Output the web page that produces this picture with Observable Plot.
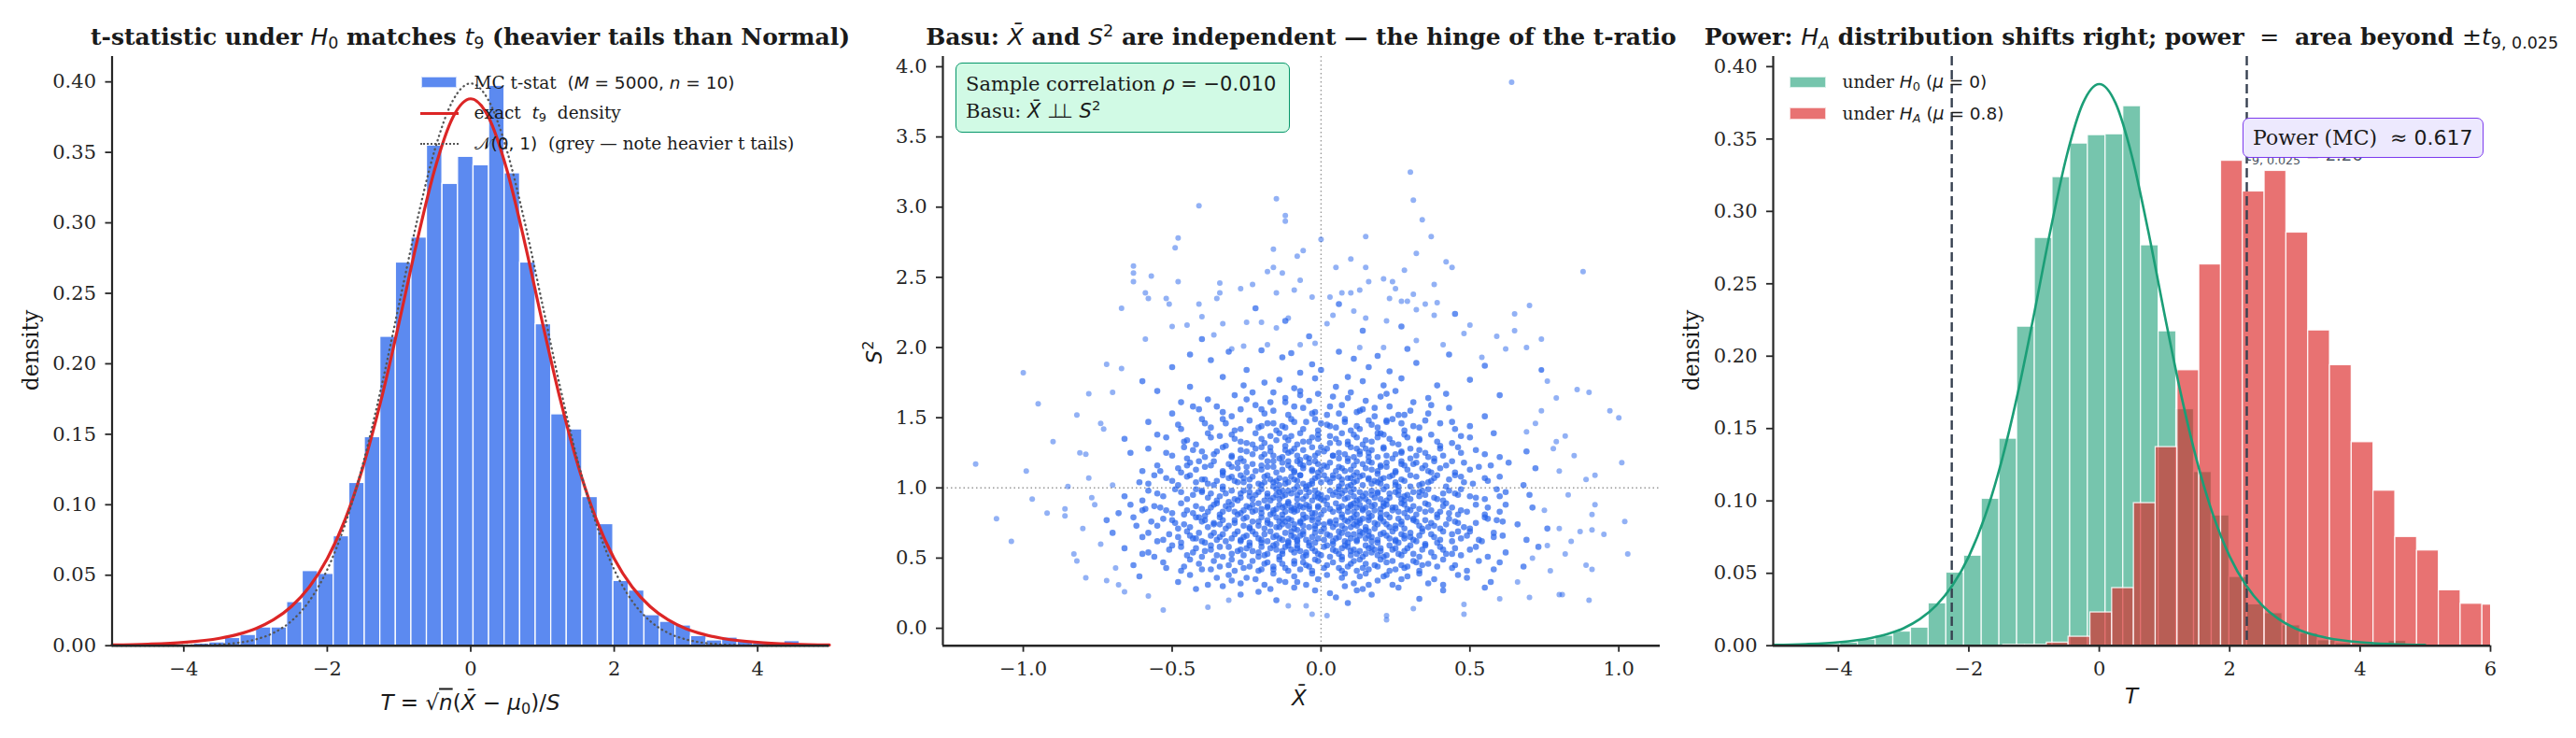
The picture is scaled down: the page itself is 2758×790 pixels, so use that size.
<!DOCTYPE html>
<html><head><meta charset="utf-8">
<script src="https://cdn.jsdelivr.net/npm/d3@7"></script>
<script src="https://cdn.jsdelivr.net/npm/@observablehq/plot@0.6"></script>
<style>
body{margin:0;background:#fff;}
#root{position:relative;width:2758px;height:790px;overflow:hidden;font-family:"DejaVu Serif";color:#1a1a1a;background:#fff}
#root svg text{font-family:"DejaVu Serif" !important;}
.abs{position:absolute;white-space:nowrap;line-height:1}
.m{font-family:"DejaVu Sans";font-style:italic;font-weight:normal}
.r{font-family:"DejaVu Sans";font-style:normal;font-weight:normal}
sub,sup{font-family:"DejaVu Sans";font-style:normal;font-weight:normal;font-size:70%;line-height:0}
sub{vertical-align:-0.28em}
sup{vertical-align:0.5em}
sub.i{font-style:italic}
</style></head><body><div id="root"></div><script>
// ---------- Panel 1: MC t-statistic histogram ----------
const tBinStart = -4.077, tBinWidth = 0.2166;
const tHist = [0.0009,0.0015,0.0024,0.0055,0.0077,0.013,0.013,0.031,0.053,0.051,0.0777,0.1155,0.148,0.2192,0.2719,0.2896,0.3549,0.3277,0.3469,0.3409,0.3973,0.3352,0.2719,0.2281,0.1642,0.1535,0.1055,0.0863,0.046,0.0392,0.0217,0.017,0.0144,0.0069,0.0038,0.0058,0.0029,0.0015,0.0013,0.0033,0.0009];
const curveX = [-5,-4.5,-4,-3.5,-3.25,-3,-2.75,-2.5,-2.25,-2,-1.75,-1.5,-1.25,-1,-0.75,-0.5,-0.25,0,0.25,0.5,0.75,1,1.25,1.5,1.75,2,2.25,2.5,2.75,3,3.25,3.5,4,4.5,5];
const t9Density = [0.0005,0.00107,0.00235,0.0053,0.008,0.0121,0.0184,0.0278,0.0417,0.0617,0.0897,0.1272,0.1743,0.2291,0.2866,0.3383,0.3748,0.388,0.3748,0.3383,0.2866,0.2291,0.1743,0.1272,0.0897,0.0617,0.0417,0.0278,0.0184,0.0121,0.008,0.0053,0.00235,0.00107,0.0005];
const normalDensity = [0,0.00002,0.00013,0.00087,0.00203,0.00443,0.0091,0.0175,0.0317,0.054,0.0863,0.1295,0.1826,0.242,0.3011,0.3521,0.3867,0.3989,0.3867,0.3521,0.3011,0.242,0.1826,0.1295,0.0863,0.054,0.0317,0.0175,0.0091,0.00443,0.00203,0.00087,0.00013,0.00002,0];
const p1XTicks = [-4,-2,0,2,4];
const p1YTicks = [0,0.05,0.1,0.15,0.2,0.25,0.3,0.35,0.4];

// ---------- Panel 2: (Xbar, S^2) scatter ----------
const basuOuter = [[.64,3.89],[.30,3.25],[.31,3.05],[-.15,3.06],[-.41,3.01],[.34,2.91],[-.12,2.94],[-.12,2.90],[.0,2.77],[.15,2.79],[.37,2.79],[-.48,2.78],[-.49,2.71],[-.16,2.70],[-.06,2.69],[.32,2.67],[-.08,2.65],[.10,2.63],[.42,2.61],[.44,2.57],[-.63,2.58],[-.63,2.53],[-.57,2.51],[-.63,2.47],[-.48,2.47],[-.16,2.57],[-.18,2.54],[-.13,2.53],[.05,2.57],[.15,2.57],[.28,2.55],[.88,2.54],[-.07,2.48],[.21,2.49],[.24,2.47],[.16,2.47],[.38,2.45],[-.34,2.46],[-.23,2.45],[-.27,2.42],[.25,2.42],[-.59,2.39],[-.58,2.35],[-.52,2.35],[-.51,2.31],[-.67,2.28],[-.41,2.31],[-.35,2.35],[-.34,2.39],[-.15,2.39],[-.09,2.41],[-.03,2.36],[.03,2.36],[.07,2.39],[.10,2.39],[.13,2.41],[.23,2.35],[.27,2.33],[.29,2.33],[.31,2.38],[.35,2.31],[.39,2.32],[.70,2.30],[.65,2.24],[.65,2.12],[.74,2.06],[.59,2.08],[.69,2.0],[.62,1.99],[.50,2.16],[.48,2.10],[.41,2.02],[.32,2.05],[.38,2.23],[.32,2.27],[.22,2.19],[.15,2.21],[.11,2.26],[.04,2.23],[.02,2.17],[-.02,2.03],[-.11,2.21],[-.15,2.14],[-.2,2.18],[-.25,2.18],[-.33,2.17],[-.4,2.22],[-.45,2.16],[-.5,2.15],[-.59,2.06],[-.36,2.09],[-.3,1.99],[-.26,2.01],[-.18,2.02],[-.07,2.02],[.13,2.0],[.21,2.0],[.54,1.93],[.74,1.84],[-.72,1.88],[-.67,1.85],[-1.0,1.82],[-.95,1.6],[-.9,1.33],[-1.16,1.17],[-.99,1.12],[-.97,.92],[-1.09,.78],[-.92,.82],[-.86,.85],[-.86,.8],[-1.04,.62],[-.83,.53],[-.82,.48],[-.79,.36],[-.72,.34],[-.68,.31],[-.58,.23],[-.53,.13],[-.38,.15],[-.31,.2],[-.11,.16],[-.05,.16],[-.03,.1],[.02,.09],[.22,.09],[.22,.06],[.31,.14],[.48,.17],[.48,.1],[.6,.21],[.7,.22],[.81,.24],[.9,.2],[.89,.45],[.91,.42],[.95,.67],[.87,.69],[.91,.7],[1.02,.76],[1.03,.53],[.91,.81],[.92,.88],[.89,1.06],[.92,1.09],[1.01,1.18],[1.0,1.5],[.97,1.55],[.9,1.68],[.86,1.7],[.85,1.23],[.82,1.37],[.79,1.33],[.8,.71],[.82,.53],[.8,.24],[.76,.59],[.74,1.55],[.76,1.76],[.72,1.46],[.74,1.84],[.78,1.28],[.83,.95],[.77,.41],[.66,.33],[.8,1.12],[.75,.84],[.69,1.4],[.84,.62],[.71,.5],[.79,1.64],[-.78,1.07],[-.74,.6],[-.81,1.25],[-.69,.43],[-.77,.93],[-.73,1.42],[-.8,.71],[-.7,1.68],[-.85,1.01],[-.66,.26],[-.82,1.52],[-.78,1.67],[-.74,1.46],[-.79,1.24],[-.7,1.02],[-.76,.88]];
const basuCore = [[-.21,.26],[.05,.22],[.14,.28],[-.09,.29],[.33,.21],[-.27,.24],[.41,.27],[.09,.18],[-.15,.2],[.26,.29],[-.42,.28],[.17,.24],[-.02,.27],[.55,.29],[-.33,.3],
[-.12,.33],[.07,.36],[.24,.31],[-.31,.38],[.15,.39],[-.05,.31],[.38,.35],[-.22,.35],[.02,.38],[-.48,.33],[.29,.37],[-.16,.39],[.11,.32],[-.38,.31],[.46,.38],[.19,.34],[-.27,.32],[-.01,.35],[.33,.39],[-.09,.37],[.57,.33],[-.61,.37],[.08,.3],[-.19,.31],[.22,.38],[-.35,.36],[.41,.31],[.13,.37],
[-.07,.42],[.18,.45],[-.29,.41],[.31,.48],[.04,.47],[-.16,.44],[.44,.43],[-.41,.46],[.12,.41],[-.02,.49],[.25,.42],[-.23,.48],[.09,.44],[-.52,.43],[.36,.46],[-.11,.41],[.6,.47],[-.34,.44],[.2,.49],[-.05,.45],[.14,.43],[-.18,.47],[.49,.41],[-.44,.49],[.27,.45],[.01,.43],[-.26,.43],[.07,.49],[-.13,.46],[.39,.44],[-.37,.42],[.22,.47],[-.09,.48],[.16,.42],[-.63,.45],[.33,.41],[-.2,.42],[.68,.44],[-.03,.41],[.1,.46],[-.3,.49],[.53,.48],[-.47,.41],[.29,.44],[-.14,.49],
[.03,.51],[-.21,.54],[.17,.58],[-.35,.52],[.28,.55],[-.08,.57],[.42,.53],[-.14,.51],[.11,.56],[-.47,.58],[.06,.53],[-.27,.56],[.35,.59],[-.02,.55],[.21,.51],[-.39,.55],[.15,.53],[-.11,.59],[.5,.56],[-.56,.51],[.25,.57],[-.18,.53],[.08,.59],[-.31,.58],[.38,.51],[-.05,.52],[.13,.55],[-.24,.59],[.31,.53],[-.43,.54],[.01,.58],[.19,.52],[-.15,.56],[.62,.54],[-.66,.57],[.45,.57],[-.09,.54],[.23,.59],[-.33,.51],[.1,.52],[-.2,.58],[.04,.56],[-.5,.59],[.34,.56],[-.13,.53],[.27,.52],[-.04,.59],[.56,.51],[-.37,.59],[.16,.57],[-.26,.52],[.07,.51],[-.07,.55],[.4,.58],[-.6,.53],[.2,.55],[-.17,.57],[.73,.58],
[-.04,.61],[.19,.63],[-.25,.66],[.32,.62],[-.12,.68],[.06,.65],[-.39,.61],[.44,.67],[-.08,.63],[.13,.69],[-.3,.64],[.26,.61],[-.51,.67],[.02,.67],[.38,.65],[-.18,.62],[.09,.61],[-.45,.69],[.22,.66],[-.01,.64],[.54,.62],[-.22,.67],[.15,.64],[-.35,.63],[.3,.68],[-.1,.66],[.47,.64],[-.6,.65],[.11,.67],[-.15,.6],[.35,.6],[-.28,.69],[.04,.62],[-.43,.64],[.24,.69],[-.06,.69],[.17,.62],[-.2,.63],[.61,.66],[-.33,.67],[.07,.68],[-.14,.64],[.41,.69],[-.55,.62],[.28,.64],[-.02,.61],[.2,.67],[-.37,.66],[.12,.63],[-.24,.61],[.5,.69],[-.09,.65],[.33,.66],[-.48,.65],[.0,.69],[.16,.66],[-.27,.62],[.69,.63],[-.7,.68],[.25,.63],[-.17,.69],[.05,.64],[-.41,.68],[.39,.61],[-.11,.62],[.58,.68],
[.01,.71],[-.17,.74],[.23,.72],[-.33,.77],[.14,.78],[-.06,.73],[.37,.75],[-.24,.71],[.09,.76],[-.46,.74],[.29,.79],[-.11,.78],[.18,.71],[-.38,.72],[.05,.74],[.48,.72],[-.2,.79],[.12,.73],[-.03,.77],[.34,.71],[-.53,.78],[.21,.76],[-.14,.72],[.59,.77],[-.29,.75],[.07,.79],[-.08,.7],[.27,.74],[-.42,.79],[.16,.77],[-.23,.76],[.43,.78],[-.01,.75],[.1,.72],[-.36,.74],[.31,.77],[-.12,.76],[.2,.79],[-.62,.73],[.04,.72],[-.26,.78],[.52,.75],[-.09,.71],[.25,.71],[-.18,.77],[.38,.73],[-.48,.71],[.13,.75],[-.05,.79],[.66,.74],[-.31,.73],[.08,.77],[-.15,.79],[.32,.76],[-.4,.76],[.19,.74],[-.02,.73],[.45,.76],[-.21,.73],[.11,.79],[-.57,.76],[.26,.78],[-.07,.75],[.15,.7],[-.34,.79],[.55,.79],[-.13,.74],[.03,.76],[-.72,.77],[.76,.71],
[-.02,.82],[.2,.85],[-.28,.81],[.13,.88],[-.1,.86],[.35,.83],[-.42,.87],[.07,.81],[-.16,.84],[.27,.89],[-.05,.88],[.44,.86],[-.33,.83],[.16,.82],[-.21,.89],[.03,.85],[-.5,.82],[.31,.87],[-.08,.84],[.22,.81],[-.37,.86],[.1,.87],[-.13,.81],[.52,.88],[-.24,.86],[.39,.81],[-.59,.85],[.05,.89],[-.18,.87],[.24,.84],[-.01,.87],[.14,.85],[-.3,.88],[.6,.83],[-.11,.89],[.33,.85],[-.45,.84],[.09,.83],[-.26,.84],[.18,.88],[-.06,.81],[.42,.89],[-.35,.89],[.28,.82],[-.15,.85],[.01,.84],[-.64,.88],[.47,.84],[-.2,.82],[.12,.86],[-.04,.85],[.36,.88],[-.39,.8],[.21,.87],[-.09,.83],[.55,.81],[-.23,.83],[.06,.86],[-.47,.89],[.3,.84],[-.12,.87],[.17,.8],[-.31,.85],[.71,.86],[-.68,.82],[.25,.86],[-.17,.81],[.11,.89],[-.54,.86],[.4,.83],
[.02,.93],[-.19,.91],[.26,.95],[-.07,.97],[.15,.92],[-.34,.94],[.41,.91],[-.12,.95],[.08,.98],[-.45,.92],[.31,.97],[-.03,.91],[.19,.96],[-.26,.98],[.5,.94],[-.16,.93],[.12,.91],[-.55,.96],[.23,.93],[-.09,.99],[.36,.99],[-.31,.9],[.04,.95],[-.21,.97],[.62,.97],[-.4,.98],[.17,.98],[-.01,.96],[.28,.91],[-.14,.92],[.45,.96],[-.6,.91],[.09,.93],[-.24,.94],[.33,.94],[-.05,.94],[.21,.99],[-.37,.96],[.13,.97],[-.11,.9],[.55,.92],[-.29,.92],[.06,.99],[-.18,.96],[.38,.93],[-.49,.99],[.25,.97],[-.02,.98],[.11,.94],[-.33,.99],[.7,.95],[-.08,.92],[.29,.95],[-.22,.95],[.16,.9],[-.43,.95],[.47,.99],[-.13,.98],[.0,.92],[.2,.92],[-.66,.94],[.34,.98],[-.27,.96],[.07,.96],[-.15,.99],[.59,.99],
[-.04,1.02],[.18,1.05],[-.23,1.08],[.3,1.01],[-.11,1.04],[.09,1.07],[-.38,1.03],[.43,1.06],[-.07,1.09],[.14,1.02],[-.29,1.05],[.24,1.09],[-.52,1.07],[.03,1.04],[-.16,1.01],[.36,1.04],[-.01,1.08],[.2,1.03],[-.44,1.09],[.11,1.09],[-.2,1.02],[.51,1.03],[-.09,1.06],[.27,1.06],[-.33,1.01],[.06,1.01],[-.14,1.07],[.6,1.08],[-.61,1.04],[.16,1.07],[-.26,1.04],[.39,1.09],[-.03,1.05],[.22,1.01],[-.4,1.06],[.12,1.05],[-.18,1.09],[.33,1.02],[-.06,1.03],[.47,1.08],[-.3,1.08],[.07,1.06],[-.12,1.03],[.25,1.04],[-.48,1.02],[.01,1.09],[.17,1.03],[-.24,1.06],[.56,1.05],[-.35,1.05],[.1,1.02],[-.08,1.01],[.32,1.08],[-.19,1.04],[.68,1.02],[-.56,1.09],[.04,1.07],[-.15,1.05],[.21,1.07],[-.27,1.09],
[.05,1.12],[-.18,1.15],[.22,1.18],[-.09,1.11],[.34,1.14],[-.31,1.17],[.11,1.16],[-.02,1.19],[.45,1.11],[-.42,1.13],[.17,1.13],[-.13,1.18],[.28,1.16],[-.25,1.11],[.02,1.15],[-.55,1.16],[.38,1.19],[-.06,1.14],[.19,1.1],[-.36,1.19],[.09,1.19],[-.2,1.13],[.53,1.15],[-.11,1.16],[.25,1.12],[-.47,1.11],[.14,1.17],[-.03,1.12],[.31,1.17],[-.28,1.14],[.63,1.18],[-.15,1.11],[.07,1.14],[-.39,1.15],[.42,1.16],[-.07,1.17],[.2,1.15],[-.23,1.17],[.12,1.11],[-.6,1.12],[.36,1.12],[-.01,1.17],[-.16,1.19],[.27,1.19],[-.33,1.12],[.48,1.18],[.0,1.13],[-.1,1.14],[.16,1.19],[-.44,1.18],[.72,1.14],[-.26,1.19],
[-.05,1.22],[.16,1.25],[-.27,1.21],[.3,1.28],[-.12,1.27],[.06,1.21],[-.4,1.26],[.41,1.23],[-.19,1.24],[.1,1.29],[-.01,1.25],[.24,1.21],[-.33,1.29],[.52,1.27],[-.08,1.23],[.19,1.22],[-.5,1.23],[.02,1.28],[-.22,1.28],[.35,1.25],[-.14,1.21],[.13,1.26],[-.36,1.24],[.27,1.26],[-.03,1.29],[.6,1.22],[-.25,1.26],[.08,1.24],[-.45,1.21],[.21,1.29],[-.1,1.26],[.38,1.21],[-.17,1.29],[.04,1.23],[-.58,1.28],[.32,1.23],[-.07,1.2],[.15,1.28],[-.3,1.23],[.46,1.29],[-.2,1.22],[.11,1.22],[-.64,1.25],[.25,1.24],[.69,1.26],
[.03,1.32],[-.2,1.35],[.21,1.38],[-.08,1.31],[.33,1.34],[-.34,1.37],[.12,1.36],[-.14,1.39],[.44,1.32],[-.03,1.36],[-.46,1.33],[.26,1.31],[-.25,1.32],[.07,1.39],[.17,1.33],[-.11,1.34],[.37,1.38],[-.38,1.39],[-.01,1.38],[.5,1.36],[-.17,1.37],[.09,1.33],[-.29,1.35],[.29,1.36],[-.55,1.38],[.14,1.31],[-.06,1.33],[.23,1.35],[-.42,1.31],[.58,1.39],[-.22,1.39],[.05,1.35],[-.12,1.3],[.4,1.3],[-.32,1.3],[.19,1.39],[-.66,1.35],
[-.06,1.42],[.17,1.45],[-.24,1.48],[.28,1.41],[-.13,1.44],[.08,1.47],[-.37,1.43],[.4,1.46],[-.02,1.49],[.13,1.42],[-.18,1.46],[.24,1.49],[-.48,1.45],[.03,1.44],[-.29,1.41],[.35,1.48],[-.09,1.47],[.19,1.43],[-.4,1.49],[.5,1.44],[-.15,1.41],[.1,1.41],[-.21,1.43],[.31,1.44],[-.58,1.47],[.0,1.46],[.22,1.47],[-.32,1.46],[.45,1.42],[-.1,1.49],
[.02,1.52],[-.16,1.55],[.23,1.58],[-.3,1.51],[.12,1.54],[-.06,1.57],[.36,1.53],[-.41,1.56],[.07,1.59],[-.22,1.59],[.3,1.55],[-.11,1.52],[.18,1.51],[-.5,1.53],[.43,1.57],[-.02,1.54],[-.27,1.56],[.14,1.56],[-.35,1.58],[.55,1.51],[-.09,1.58],[.26,1.52],[-.19,1.53],[.06,1.53],
[-.04,1.62],[.2,1.65],[-.23,1.68],[.31,1.61],[-.12,1.64],[.1,1.68],[-.38,1.63],[.42,1.67],[-.07,1.69],[.15,1.62],[-.29,1.66],[.25,1.69],[-.47,1.61],[.04,1.65],[-.17,1.61],[.36,1.64],[-.01,1.67],[.6,1.66],[-.55,1.69],
[.05,1.72],[-.19,1.75],[.27,1.78],[-.09,1.71],[.14,1.76],[-.33,1.79],[.39,1.73],[-.02,1.78],[-.44,1.72],[.21,1.73],[-.14,1.77],[.5,1.77],[-.26,1.73],[.09,1.79],[-.6,1.76],
[-.07,1.82],[.16,1.86],[-.25,1.84],[.32,1.89],[-.13,1.93],[.06,1.97],[-.37,1.91],[.23,1.83],[-.03,1.88],[.43,1.95],[-.2,1.98],[.11,1.92],[-.5,1.86],[.29,1.99],[-.1,1.96],[.0,1.84],[-.31,1.97],[.19,1.94],[.55,1.87],[-.44,1.95],
[-.04,2.08],[.14,2.12],[-.22,2.28],[.27,2.15],[-.12,2.19],[.06,2.31],[.45,2.24],[-.4,2.06]];
const basuDense = [[-.14,.34],[.21,.37],[-.03,.39],[.12,.27],[-.25,.36],[.36,.32],[-.08,.33],[.03,.25],[-.44,.38],[.27,.35],[-.17,.28],[.08,.39],[.49,.36],[-.3,.34],[.16,.31],
[.06,.43],[-.19,.46],[.23,.41],[-.31,.45],[.11,.48],[-.06,.47],[.34,.45],[-.4,.42],[.15,.46],[-.12,.43],[.41,.49],[-.24,.44],[.02,.45],[-.53,.47],[.28,.43],[-.09,.46],[.19,.44],[-.36,.48],[.07,.41],[-.16,.42],[.45,.45],[-.01,.48],[.24,.48],[-.27,.47],[.13,.49],[-.46,.44],[.32,.47],[-.04,.44],[-.21,.41],[.58,.42],
[-.01,.53],[.24,.56],[-.28,.55],[.14,.51],[-.12,.58],[.37,.54],[-.42,.57],[.05,.55],[-.19,.52],[.3,.59],[-.06,.51],[.17,.54],[-.34,.58],[.47,.52],[-.1,.56],[.09,.58],[-.23,.55],[.26,.53],[-.51,.56],[.02,.59],[.2,.57],[-.16,.59],[.41,.56],[-.3,.53],[.12,.53],[-.03,.57],[.33,.51],[-.45,.52],[.07,.57],[-.21,.51],[.52,.58],[-.08,.59],[.22,.52],[-.37,.56],[.15,.59],[-.13,.55],[.29,.57],[-.58,.54],[.0,.52],[.18,.56],[-.25,.57],[.44,.53],[-.05,.54],[.1,.55],[-.4,.51],
[.08,.62],[-.16,.65],[.27,.67],[-.32,.62],[.14,.68],[-.05,.63],[.4,.63],[-.44,.66],[.03,.66],[-.21,.64],[.34,.69],[-.11,.61],[.19,.61],[-.36,.68],[.49,.66],[-.02,.68],[.23,.64],[-.26,.65],[.1,.64],[-.53,.63],[.31,.63],[-.08,.62],[.16,.69],[-.19,.67],[.44,.62],[-.4,.62],[.06,.69],[-.13,.63],[.28,.66],[-.29,.67],[.01,.63],[.58,.65],[-.47,.61],[.21,.68],[-.07,.66],[.12,.62],[-.23,.69],[.37,.67],[-.15,.66],[.04,.6],[-.34,.65],[.25,.62],[-.1,.69],[.17,.65],[-.58,.68],[.46,.69],[-.03,.65],[.3,.65],[-.2,.61],[.09,.67],[-.42,.64],[.53,.63],[-.27,.63],[.13,.66],[-.06,.67],
[-.04,.72],[.18,.75],[-.26,.73],[.31,.78],[-.1,.77],[.08,.71],[-.39,.77],[.42,.74],[-.15,.72],[.13,.77],[-.01,.78],[.25,.73],[-.32,.71],[.5,.71],[-.07,.76],[.2,.78],[-.49,.75],[.03,.75],[-.21,.76],[.36,.72],[-.13,.78],[.11,.74],[-.36,.75],[.27,.76],[-.02,.71],[.61,.76],[-.25,.79],[.07,.73],[-.44,.72],[.23,.79],[-.11,.73],[.39,.79],[-.18,.75],[.05,.77],[-.55,.73],[.33,.73],[-.06,.78],[.15,.72],[-.29,.77],[.46,.75],[-.19,.71],[.1,.78],[-.63,.79],[.28,.71],[-.09,.74],[.16,.79],[-.34,.74],[.56,.78],[-.14,.76],[.01,.74],[-.41,.79],[.22,.74],[-.24,.72],[.35,.77],[-.03,.79],[.12,.76],[-.5,.77],[.4,.71],
[.04,.83],[-.18,.86],[.22,.88],[-.29,.83],[.12,.81],[-.07,.87],[.37,.84],[-.43,.82],[.09,.86],[-.14,.88],[.29,.85],[-.03,.82],[.17,.87],[-.36,.88],[.46,.81],[-.22,.84],[.02,.88],[-.52,.84],[.26,.83],[-.09,.85],[.14,.84],[-.25,.87],[.41,.87],[-.12,.83],[.06,.84],[-.4,.85],[.32,.81],[-.01,.86],[.2,.82],[-.32,.87],[.56,.86],[-.16,.82],[.1,.88],[-.46,.81],[.24,.86],[-.06,.86],[.35,.89],[-.2,.85],[.0,.81],[-.6,.84],[.18,.84],[-.27,.82],[.49,.83],[-.1,.84],[.15,.86],[-.38,.83],[.28,.88],[-.04,.87],[.07,.87],[-.23,.88],[.43,.82],[-.13,.86],[.21,.89],[-.34,.81],[.62,.88],[-.56,.87],[.11,.83],[-.08,.88],
[-.06,.92],[.17,.95],[-.24,.97],[.3,.92],[-.13,.94],[.05,.97],[-.38,.93],[.43,.98],[-.02,.94],[.22,.91],[-.3,.98],[.11,.99],[-.17,.91],[.35,.95],[-.47,.97],[.01,.91],[.26,.98],[-.1,.96],[.14,.94],[-.27,.93],[.52,.93],[-.05,.99],[.19,.97],[-.35,.91],[.08,.92],[-.2,.99],[.39,.92],[-.53,.94],[.03,.98],[-.14,.97],[.28,.94],[-.42,.99],[.15,.96],[-.08,.95],[.46,.95],[-.23,.92],[.1,.97],[-.32,.96],[.23,.96],[-.01,.93],[.6,.94],[-.18,.94],[.06,.94],[-.4,.97],[.33,.97],[-.11,.98],[.18,.93],[-.28,.91],[.41,.96],[-.04,.97],[.13,.92],[-.58,.98],[.27,.92],[-.15,.95],[.0,.95],
[.07,1.03],[-.17,1.06],[.25,1.02],[-.31,1.07],[.13,1.08],[-.05,1.01],[.38,1.07],[-.42,1.04],[.02,1.06],[-.21,1.03],[.3,1.09],[-.1,1.08],[.19,1.04],[-.36,1.02],[.48,1.04],[-.02,1.07],[.09,1.01],[-.26,1.07],[.34,1.03],[-.14,1.02],[.16,1.06],[-.5,1.05],[.04,1.09],[-.08,1.05],[.23,1.08],[-.33,1.09],[.42,1.01],[-.19,1.08],[.11,1.04],[-.45,1.08],[.28,1.05],[-.03,1.03],[.55,1.07],[-.24,1.01],[.14,1.09],[-.12,1.06],[.37,1.05],[-.58,1.03],[.0,1.04],[.2,1.06],[-.28,1.04],[.06,1.08],[-.39,1.06],[.45,1.09],[-.07,1.09],[.26,1.01],[-.16,1.04],[.1,1.07],
[-.03,1.13],[.2,1.16],[-.22,1.12],[.32,1.18],[-.11,1.19],[.08,1.12],[-.37,1.16],[.4,1.14],[-.06,1.16],[.15,1.14],[-.28,1.18],[.25,1.11],[-.48,1.14],[.03,1.18],[-.16,1.15],[.35,1.16],[-.01,1.11],[.12,1.19],[-.33,1.11],[.5,1.13],[-.09,1.12],[.22,1.15],[-.2,1.16],[.06,1.15],[-.41,1.19],[.29,1.13],[-.13,1.13],[.17,1.18],[-.25,1.15],[.44,1.19],[-.04,1.18],[.1,1.13],[-.54,1.12],[.37,1.11],[-.18,1.19],[.01,1.16],[-.3,1.15],[.57,1.16],[-.08,1.19],[.19,1.12],[-.45,1.16],[.27,1.17],
[.04,1.23],[-.17,1.26],[.21,1.28],[-.3,1.22],[.13,1.24],[-.06,1.27],[.36,1.22],[-.43,1.27],[.09,1.21],[-.13,1.22],[.27,1.25],[-.02,1.23],[.17,1.27],[-.35,1.26],[.47,1.25],[-.23,1.24],[.01,1.26],[-.52,1.25],[.3,1.21],[-.09,1.28],[.12,1.28],[-.27,1.27],[.4,1.28],[-.16,1.23],[.06,1.25],[-.39,1.22],[.22,1.23],[-.04,1.21],[.55,1.24],[-.2,1.29],[.16,1.22],[-.46,1.29],[.33,1.27],[-.11,1.25],[.0,1.29],
[-.04,1.33],[.19,1.36],[-.23,1.31],[.28,1.38],[-.1,1.37],[.06,1.32],[-.37,1.36],[.39,1.33],[-.15,1.34],[.11,1.38],[-.01,1.35],[.24,1.32],[-.3,1.38],[.47,1.37],[-.07,1.39],[.15,1.34],[-.45,1.34],[.03,1.37],[-.19,1.32],[.33,1.35],[-.12,1.36],[.09,1.31],[-.27,1.33],[.2,1.39],[-.52,1.36],
[.05,1.43],[-.16,1.46],[.22,1.48],[-.27,1.42],[.12,1.44],[-.05,1.47],[.33,1.43],[-.39,1.46],[.08,1.49],[-.12,1.43],[.27,1.46],[-.01,1.41],[.16,1.48],[-.33,1.49],[.44,1.47],[-.2,1.44],[.02,1.45],[-.47,1.42],
[-.03,1.53],[.18,1.57],[-.2,1.56],[.28,1.52],[-.12,1.61],[.09,1.64],[-.33,1.54],[.37,1.59],[-.07,1.66],[.13,1.55],[-.25,1.63],[.22,1.67],[-.43,1.58],[.03,1.58],[-.16,1.68]];
const p2XTicks = [-1,-0.5,0,0.5,1];
const p2YTicks = [0,0.5,1,1.5,2,2.5,3,3.5,4];

// ---------- Panel 3: H0 vs HA histograms ----------
const h0BinStart = -4.787, h0BinWidth = 0.2713;
const h0Hist = [0.0004,0.0007,0.0012,0.0022,0.0042,0.0069,0.0098,0.0125,0.0293,0.0505,0.0622,0.1015,0.143,0.2204,0.2817,0.3237,0.3469,0.3527,0.3533,0.3727,0.2766,0.2172,0.1634,0.12,0.09,0.0475,0.0286,0.0225,0.0141,0.0085,0.0038,0.0018,0.0012,0.0012,0.0034];
const haBinStart = -1.473, haBinWidth = 0.334;
const haHist = [0.0006,0.0006,0.0021,0.0062,0.023,0.0398,0.0985,0.1372,0.1903,0.2634,0.335,0.3138,0.328,0.2854,0.2178,0.1938,0.1406,0.1071,0.0751,0.0658,0.0383,0.029,0.0284];
const tCrit = [-2.262, 2.262];
const p3XTicks = [-4,-2,0,2,4,6];
const p3YTicks = [0,0.05,0.1,0.15,0.2,0.25,0.3,0.35,0.4];

// ---------- build ----------
const bars = (hs, start, w) => hs.map((h, i) => ({x1: start + i * w, x2: start + (i + 1) * w, h}));
const curve = (ys) => curveX.map((x, i) => ({x, y: ys[i]}));
const root = document.getElementById("root");
const ink = "#262626";
const baseStyle = {fontFamily: "DejaVu Serif", fontSize: "21px", color: ink, background: "transparent", overflow: "visible"};
const f2 = d3.format(".2f"), f1 = d3.format(".1f"), f0 = d3.format("d");
function axes(xt, xf, yt, yf) {
  const t = {fontFamily: "DejaVu Serif", fontSize: 21, fill: ink, stroke: ink, strokeWidth: 1.8, tickSize: 7, tickPadding: 10, label: null};
  return [
    Plot.axisX({...t, ticks: xt, tickFormat: xf}),
    Plot.axisY({...t, ticks: yt, tickFormat: yf})
  ];
}
function place(svg, left) {
  svg.style.position = "absolute"; svg.style.left = left + "px"; svg.style.top = "0px";
  svg.style.maxWidth = "none";
  svg.querySelectorAll("text").forEach(t => { t.style.fontFamily = "DejaVu Serif"; t.style.fontSize = "21px"; });
  root.appendChild(svg);
}

const p1 = Plot.plot({
  width: 920, height: 790, marginLeft: 119.5, marginRight: 32.5, marginTop: 60, marginBottom: 99.3,
  style: baseStyle,
  x: {domain: [-5, 5]}, y: {domain: [0, 0.418]},
  marks: [
    Plot.rectY(bars(tHist, tBinStart, tBinWidth), {x1: "x1", x2: "x2", y: "h", fill: "#2563eb", fillOpacity: 0.75, stroke: "white", strokeWidth: 1.3}),
    Plot.line(curve(t9Density), {x: "x", y: "y", stroke: "#dc2626", strokeWidth: 3.2, curve: "monotone-x"}),
    Plot.line(curve(normalDensity), {x: "x", y: "y", stroke: "#555", strokeWidth: 2.3, strokeDasharray: "0.5,4.5", strokeLinecap: "round", curve: "monotone-x"}),
    ...axes(p1XTicks, f0, p1YTicks, f2),
    Plot.ruleX([-5], {stroke: ink, strokeWidth: 2.2}),
    Plot.ruleY([0], {stroke: ink, strokeWidth: 2.6})
  ]
});
place(p1, 0);

const p2 = Plot.plot({
  width: 900, height: 790, marginLeft: 89, marginRight: 43, marginTop: 60, marginBottom: 99.3,
  style: baseStyle,
  x: {domain: [-1.27, 1.139]}, y: {domain: [-0.124, 4.073]},
  marks: [
    Plot.ruleX([0], {stroke: "#999", strokeWidth: 1.4, strokeDasharray: "1.5,3"}),
    Plot.ruleY([1], {stroke: "#999", strokeWidth: 1.4, strokeDasharray: "1.5,3"}),
    Plot.dot(basuOuter, {x: d => d[0], y: d => d[1], r: 3, fill: "#2563eb", fillOpacity: 0.5}),
    Plot.dot(basuCore.concat(basuDense), {x: d => d[0], y: d => d[1], r: 3.3, fill: "#2563eb", fillOpacity: 0.7}),
    ...axes(p2XTicks, f1, p2YTicks, f1),
    Plot.ruleX([-1.27], {stroke: ink, strokeWidth: 2.2}),
    Plot.ruleY([-0.124], {stroke: ink, strokeWidth: 2.6})
  ]
});
place(p2, 920);

const p3 = Plot.plot({
  width: 938, height: 790, marginLeft: 78, marginRight: 92, marginTop: 60, marginBottom: 99.3,
  style: baseStyle,
  x: {domain: [-5, 6]}, y: {domain: [0, 0.407]},
  marks: [
    Plot.rectY(bars(h0Hist, h0BinStart, h0BinWidth), {x1: "x1", x2: "x2", y: "h", fill: "#1b9e77", fillOpacity: 0.6, stroke: "white", strokeOpacity: 0.85, strokeWidth: 1.3}),
    Plot.rectY(bars(haHist, haBinStart, haBinWidth), {x1: "x1", x2: "x2", y: "h", fill: "#dc2626", fillOpacity: 0.65, stroke: "white", strokeOpacity: 0.85, strokeWidth: 1.3, clip: true}),
    Plot.ruleX(tCrit, {stroke: "#374151", strokeWidth: 2.4, strokeDasharray: "10,5"}),
    Plot.line(curve(t9Density), {x: "x", y: "y", stroke: "#1b9e77", strokeWidth: 2.6, curve: "monotone-x"}),
    ...axes(p3XTicks, f0, p3YTicks, f2),
    Plot.ruleX([-5], {stroke: ink, strokeWidth: 2.2}),
    Plot.ruleY([0], {stroke: ink, strokeWidth: 2.6})
  ]
});
place(p3, 1820);

// ---------- text overlays ----------
function txt(html, x, y, o = {}) {
  const d = document.createElement("div");
  d.className = "abs";
  d.innerHTML = html;
  d.style.left = x + "px"; d.style.top = y + "px";
  d.style.fontSize = (o.size || 21) + "px";
  if (o.bold) d.style.fontWeight = "bold";
  if (o.color) d.style.color = o.color;
  const ax = o.align === "left" ? "0" : "-50%";
  d.style.transform = `translate(${ax},-50%)` + (o.rot ? " rotate(-90deg)" : "");
  root.appendChild(d);
  return d;
}
function box(x, y, w, h, bg, border) {
  const d = document.createElement("div");
  d.className = "abs";
  Object.assign(d.style, {left: x + "px", top: y + "px", width: w + "px", height: h + "px", background: bg, border: "1.8px solid " + border, borderRadius: "7px", boxSizing: "border-box"});
  root.appendChild(d);
}
function swatch(x, y, w, h, bg) {
  const d = document.createElement("div");
  d.className = "abs";
  Object.assign(d.style, {left: x + "px", top: y + "px", width: w + "px", height: h + "px", background: bg, boxSizing: "border-box", border: "1px solid rgba(255,255,255,0.7)"});
  root.appendChild(d);
}
function hline(x, y, w, css) {
  const d = document.createElement("div");
  d.className = "abs";
  Object.assign(d.style, {left: x + "px", top: y + "px", width: w + "px", height: "0px"}, css);
  root.appendChild(d);
}
const T = 25, A = 23.5, L = 18.5;
// titles
txt('t-statistic under <span class="m">H<sub>0</sub></span> matches <span class="m">t<sub>9</sub></span> (heavier tails than Normal)', 503.5, 38.5, {size: T, bold: true});
txt('Basu: <span class="m">X̄</span> and <span class="m">S</span><sup>2</sup> are independent — the hinge of the t-ratio', 1393, 38.5, {size: T, bold: true});
txt('Power: <span class="m">H</span><sub class="i">A</sub> distribution shifts right; power <span class="r">&nbsp;=&nbsp;</span> area beyond <span class="r">±</span><span class="m">t</span><sub>9, 0.025</sub>', 2282, 38.5, {size: T, bold: true});
// axis labels
txt('<span class="m">T</span><span class="r"> = √</span><span class="m" style="text-decoration:overline">n</span><span class="r">(</span><span class="m">X̄</span><span class="r"> − </span><span class="m">μ</span><sub>0</sub><span class="r">)/</span><span class="m">S</span>', 503.5, 752, {size: 23});
txt('density', 34, 375, {size: A, rot: true});
txt('<span class="m">X̄</span>', 1391, 747, {size: 23});
txt('<span class="m">S</span><sup>2</sup>', 936, 377, {size: 23, rot: true});
txt('<span class="m">T</span>', 2282, 745, {size: 23});
txt('density', 1812, 375, {size: A, rot: true});
// legend panel 1
swatch(450.7, 81.7, 38, 12.8, "rgba(37,99,235,0.75)");
txt('MC t-stat&nbsp; <span class="r">(<i>M</i> = 5000, <i>n</i> = 10)</span>', 507.6, 88.5, {size: L, align: "left"});
hline(449.5, 119.5, 41, {borderTop: "3px solid #dc2626"});
txt('exact&nbsp; <span class="m">t</span><sub>9</sub>&nbsp; density', 507.6, 121, {size: L, align: "left"});
hline(449.5, 153, 41, {borderTop: "2.4px dotted #555"});
txt('<span class="r">𝒩(0, 1)</span>&nbsp; (grey — note heavier t tails)', 507.6, 154, {size: L, align: "left"});
// panel 2 annotation
box(1023, 67, 358, 75, "#d1fae5", "#059669");
txt('Sample correlation <span class="r"><i>ρ</i> = −0.010</span>', 1034, 89.7, {size: 21, align: "left"});
txt('Basu: <span class="r"><i>X̄</i> <span style="letter-spacing:-0.42em">⊥</span>⊥ <i>S</i><sup>2</sup></span>', 1034, 118.7, {size: 21, align: "left"});
// legend panel 3
swatch(1915.7, 81.7, 39, 12.8, "rgba(27,158,119,0.6)");
txt('under <span class="m">H</span><sub>0</sub> <span class="r">(<i>μ</i> = 0)</span>', 1972.5, 88, {size: L, align: "left"});
swatch(1915.7, 115.3, 39, 12.8, "rgba(220,38,38,0.65)");
txt('under <span class="m">H</span><sub class="i">A</sub> <span class="r">(<i>μ</i> = 0.8)</span>', 1972.5, 121.7, {size: L, align: "left"});
// panel 3 critical-value label (mostly hidden) and power box
txt('<span class="m">t</span><sub>9, 0.025</sub><span class="r"> = 2.26</span>', 2404, 166, {size: 18, align: "left", color: "#4b5563"});
box(2401, 126, 258, 43, "#ede9fe", "#7c3aed");
txt('Power (MC)&nbsp; <span class="r">≈ 0.617</span>', 2412, 147.5, {size: 22, align: "left"});
</script></body></html>
